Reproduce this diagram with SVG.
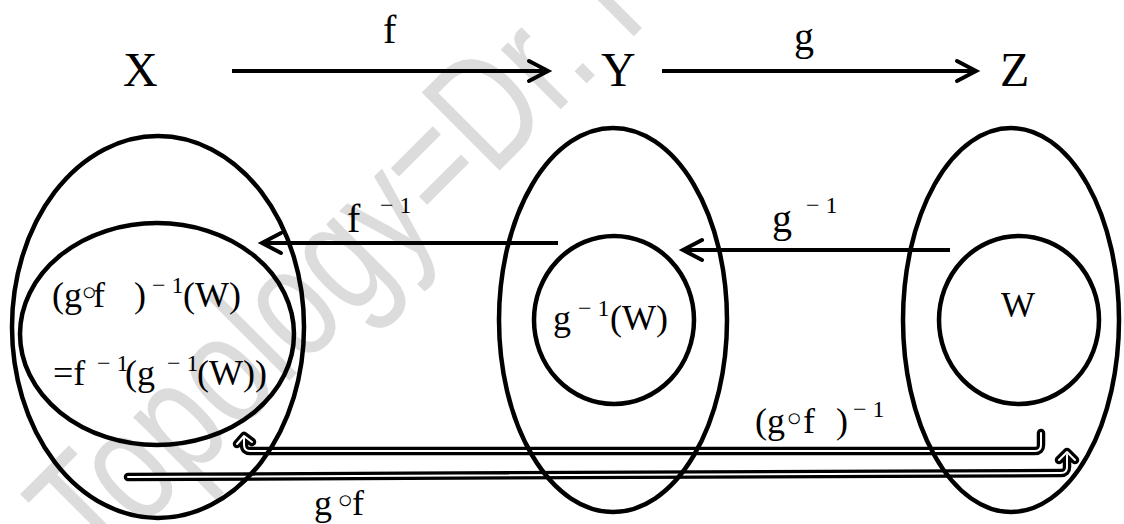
<svg xmlns="http://www.w3.org/2000/svg" width="1124" height="524" viewBox="0 0 1124 524">
<defs>
<style>
.t{font-family:"Liberation Serif","DejaVu Serif",serif;fill:#000}
.big{font-size:48px}
.lab{font-size:40px}
.m{font-size:36px}
.sup{font-size:24px}
.ring{font-family:"DejaVu Sans",sans-serif;font-size:38px}
.ell{fill:none;stroke:#000;stroke-width:4.5}
.ar{fill:none;stroke:#000;stroke-width:4;stroke-linecap:butt}
.hd{fill:none;stroke:#000;stroke-width:4;stroke-linecap:round;stroke-linejoin:miter}
.dbo{fill:none;stroke:#000;stroke-width:8.5;stroke-linecap:round;stroke-linejoin:round}
.dbi{fill:none;stroke:#fff;stroke-width:2;stroke-linecap:round;stroke-linejoin:round}
.wm{font-family:"Liberation Sans","DejaVu Sans",sans-serif;font-size:160px;fill:#dcdcdc}
</style>
</defs>
<rect width="1124" height="524" fill="#fff"/>
<text class="wm" transform="translate(96,574) rotate(-45)" textLength="839" lengthAdjust="spacingAndGlyphs">Topology=Dr. R</text>

<g id="connectors">
<g id="arrow-f"><line class="ar" x1="232" y1="71" x2="547" y2="71"/><polyline class="hd" points="529,61 548,71 529,81"/></g>
<g id="arrow-g"><line class="ar" x1="662" y1="71" x2="975" y2="71"/><polyline class="hd" points="957,61 976,71 957,81"/></g>
<g id="arrow-finv"><line class="ar" x1="558" y1="243" x2="263" y2="243"/><polyline class="hd" points="281,233 262,243 281,253"/></g>
<g id="arrow-ginv"><line class="ar" x1="950" y1="250" x2="684" y2="250"/><polyline class="hd" points="702,240 683,250 702,260"/></g>
<g id="arrow-gofinv">
<path class="dbo" d="M1041,433 V445 Q1041,451 1035,451 H250 Q244,451 244,445 V438 M237,444 L244,436 L252,442"/>
<path class="dbi" d="M1041,433 V445 Q1041,451 1035,451 H250 Q244,451 244,445 V438 M237,444 L244,436 L252,442"/>
</g>
<g id="arrow-gof">
<path class="dbo" d="M128,477 L1061,473 Q1067,473 1067,467 V455 M1059,460 L1067,452 L1075,460"/>
<path class="dbi" d="M128,477 L1061,473 Q1067,473 1067,467 V455 M1059,460 L1067,452 L1075,460"/>
</g>
</g>

<g id="node-X">
<ellipse class="ell" cx="158" cy="327" rx="146" ry="191"/>
<text class="t big" x="123" y="86">X</text>
</g>
<g id="node-X-inner">
<ellipse class="ell" cx="157" cy="334" rx="137" ry="111"/>
<text class="t m" y="307"><tspan x="52">(g</tspan><tspan class="ring" x="78">◦</tspan><tspan x="93">f</tspan><tspan x="125"> )</tspan><tspan class="sup" x="152" dy="-14">− 1</tspan><tspan x="183" dy="14">(W)</tspan></text>
<text class="t m" y="385"><tspan x="53">=f</tspan><tspan class="sup" x="97" dy="-14">− 1</tspan><tspan x="125" dy="14">(g</tspan><tspan class="sup" x="167" dy="-14">− 1</tspan><tspan x="197" dy="14">(W))</tspan></text>
</g>
<g id="node-Y">
<ellipse class="ell" cx="613" cy="320" rx="114" ry="192"/>
<text class="t big" x="601" y="86">Y</text>
</g>
<g id="node-Y-inner">
<ellipse class="ell" cx="614" cy="320" rx="80" ry="84"/>
<text class="t m" y="330"><tspan x="553">g</tspan><tspan class="sup" x="578" dy="-14">− 1</tspan><tspan x="610" dy="14">(W)</tspan></text>
</g>
<g id="node-Z">
<ellipse class="ell" cx="1011" cy="320" rx="108" ry="192"/>
<text class="t big" x="1000" y="86">Z</text>
</g>
<g id="node-Z-inner">
<ellipse class="ell" cx="1019" cy="320" rx="80" ry="84"/>
<text class="t m" x="1001" y="317">W</text>
</g>

<g id="labels">
<text class="t lab" x="383" y="43">f</text>
<text class="t lab" x="794" y="50">g</text>
<text class="t lab" y="232"><tspan x="347">f</tspan><tspan class="sup" x="380" dy="-19">− 1</tspan></text>
<text class="t lab" y="232"><tspan x="772">g</tspan><tspan class="sup" x="806" dy="-19">− 1</tspan></text>
<text class="t m" y="433"><tspan x="755">(g</tspan><tspan class="ring" x="783">◦</tspan><tspan x="803">f</tspan><tspan x="827"> )</tspan><tspan class="sup" x="853" dy="-16">− 1</tspan></text>
<text class="t m" y="515"><tspan x="314">g</tspan><tspan class="ring" x="334">◦</tspan><tspan x="352">f</tspan></text>
</g>
</svg>
